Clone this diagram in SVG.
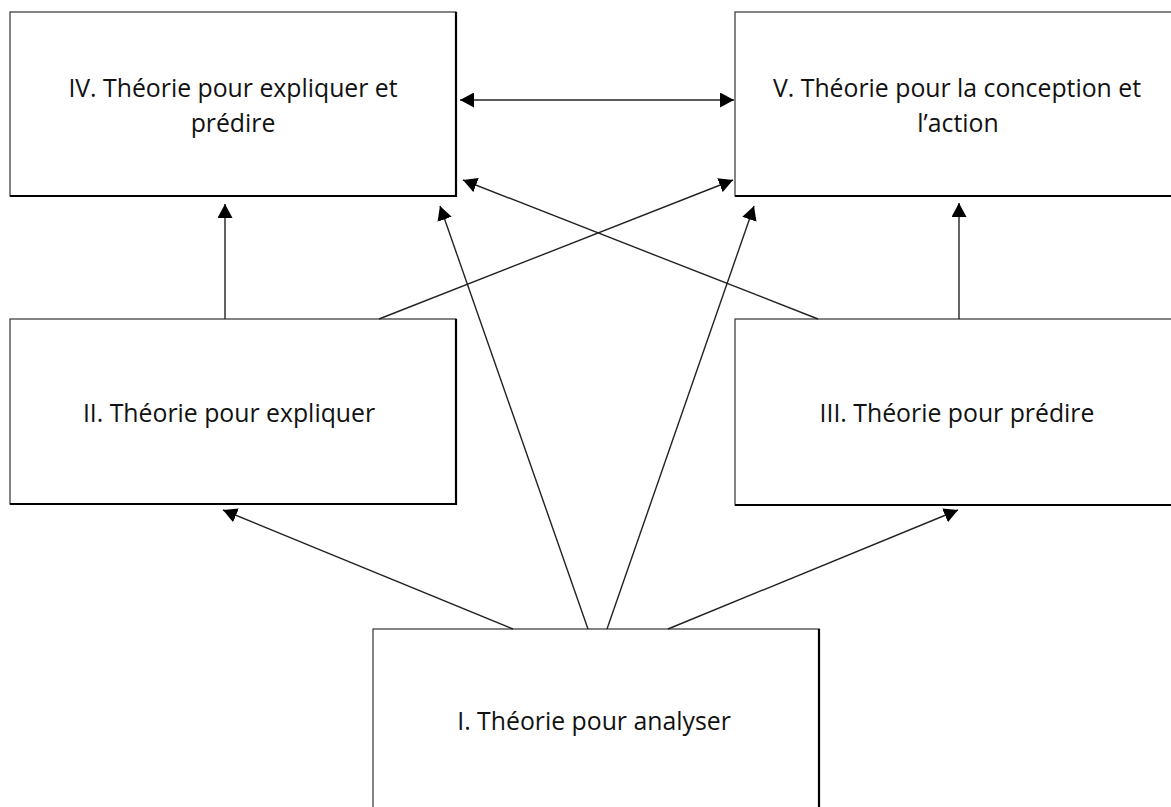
<svg xmlns="http://www.w3.org/2000/svg" width="1171" height="807" viewBox="0 0 1171 807">
<style>
.box{fill:#fff;stroke:#333;stroke-width:1.2}
.edge{fill:none;stroke:#000;stroke-width:2.2}
.lbl{font-family:"Open Sans","Liberation Sans",sans-serif;font-size:24.8px;fill:#111;text-anchor:middle}
.conn line{stroke:#222;stroke-width:1.4;marker-end:url(#ah)}
</style>
<defs>
<marker id="ah" markerUnits="userSpaceOnUse" markerWidth="15" markerHeight="15" refX="14" refY="7.5" orient="auto-start-reverse" viewBox="0 0 15 15">
<path d="M0,0 L14,7.5 L0,15 z" fill="#000"/>
</marker>
</defs>
<rect width="1171" height="807" fill="#fff"/>
<g id="node-IV">
<rect class="box" x="10" y="12" width="446" height="184"/>
<path class="edge" d="M456,12 V196 H10"/>
<text class="lbl" x="233" y="97">IV. Théorie pour expliquer et</text>
<text class="lbl" x="233" y="132">prédire</text>
</g>
<g id="node-V">
<rect class="box" x="735" y="12" width="450" height="184"/>
<path class="edge" d="M735,196 H1185"/>
<text class="lbl" x="957" y="97">V. Théorie pour la conception et</text>
<text class="lbl" x="958" y="132">l’action</text>
</g>
<g id="node-II">
<rect class="box" x="10" y="319" width="446" height="185"/>
<path class="edge" d="M456,319 V504 H10"/>
<text class="lbl" x="229" y="422">II. Théorie pour expliquer</text>
</g>
<g id="node-III">
<rect class="box" x="735" y="319" width="450" height="186"/>
<path class="edge" d="M735,505 H1185"/>
<text class="lbl" x="957" y="422">III. Théorie pour prédire</text>
</g>
<g id="node-I">
<rect class="box" x="373" y="629" width="446" height="200"/>
<path class="edge" d="M819,629 V829"/>
<text class="lbl" x="594" y="730">I. Théorie pour analyser</text>
</g>
<g id="connectors" class="conn">
<line x1="460" y1="100" x2="734" y2="100" style="marker-start:url(#ah)"/>
<line x1="225" y1="319" x2="225" y2="204"/>
<line x1="959" y1="319" x2="959" y2="203"/>
<line x1="379" y1="319" x2="733" y2="180"/>
<line x1="818" y1="319" x2="463" y2="180"/>
<line x1="588" y1="629" x2="440" y2="206"/>
<line x1="607" y1="629" x2="754" y2="206"/>
<line x1="513" y1="629" x2="223" y2="510"/>
<line x1="668" y1="629" x2="958" y2="510"/>
</g>
</svg>
